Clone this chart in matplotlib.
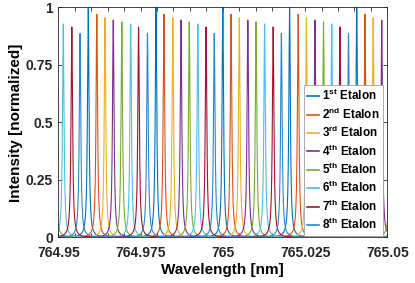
import numpy as np
import matplotlib
matplotlib.use("Agg")
import matplotlib.pyplot as plt

plt.rcParams['font.family'] = ['Liberation Sans', 'DejaVu Sans']
plt.rcParams['font.weight'] = 'bold'
plt.rcParams['mathtext.fontset'] = 'custom'
plt.rcParams['mathtext.rm'] = 'Liberation Sans:bold'
plt.rcParams['mathtext.bf'] = 'Liberation Sans:bold'
plt.rcParams['mathtext.default'] = 'bf'

# peak centres (nm), incl. ones just outside the window
peaks = [
    [764.9591, 764.9797, 765.0000, 765.0203, 765.0407],
    [764.9617, 764.9821, 765.0025, 765.0229, 765.0432],
    [764.9438, 764.9642, 764.9848, 765.0050, 765.0254, 765.0457],
    [764.9463, 764.9667, 764.9873, 765.0076, 765.0280, 765.0483],
    [764.9489, 764.9693, 764.9898, 765.0101, 765.0306, 765.0510],
    [764.9515, 764.9720, 764.9924, 765.0127, 765.0331, 765.0535],
    [764.9541, 764.9744, 764.9949, 765.0153, 765.0356],
    [764.9566, 764.9771, 764.9974, 765.0178, 765.0382],
]
heights = [1.0, 0.97, 0.955, 0.945, 0.937, 0.928, 0.915, 0.887]
half_width = 0.000276  # nm, half width at half max

labels = ['1$^{st}$ Etalon', '2$^{nd}$ Etalon', '3$^{rd}$ Etalon', '4$^{th}$ Etalon',
          '5$^{th}$ Etalon', '6$^{th}$ Etalon', '7$^{th}$ Etalon', '8$^{th}$ Etalon']
colors = ['#0072BD', '#D95319', '#EDB120', '#7E2F8E',
          '#77AC30', '#4DBEEE', '#A2142F', '#2E86CC']

wl = np.linspace(764.94, 765.06, 24001)

fig = plt.figure(figsize=(4.15, 2.83), dpi=100)
ax = fig.add_axes([0.1405, 0.1608, 0.7928, 0.8127])

for pk, h, lab, c in zip(peaks, heights, labels, colors):
    y = np.zeros_like(wl)
    for p in pk:
        y += h / (1 + ((wl - p) / half_width) ** 2)
    ax.plot(wl, y, color=c, lw=0.8, label=lab)

ax.set_xlim(764.95, 765.05)
ax.set_ylim(0, 1)
xt = np.round(np.arange(764.95, 765.0501, 0.005), 3)
ax.set_xticks(xt)
ax.set_xticklabels([('%g' % v) if i % 5 == 0 else '' for i, v in enumerate(xt)])
ax.set_yticks([0, 0.25, 0.5, 0.75, 1])
ax.set_yticklabels(['0', '0.25', '0.5', '0.75', '1'])
ax.tick_params(direction='in', length=3, width=0.6, top=True, right=True,
               labelsize=10, colors='#262626')
ax.tick_params(axis='x', pad=6)
ax.tick_params(axis='y', pad=4)
for s in ax.spines.values():
    s.set_color('#262626')
    s.set_linewidth(0.6)

ax.set_xlabel('Wavelength [nm]', fontsize=11, fontweight='bold', labelpad=2)
ax.set_ylabel('Intensity [normalized]', fontsize=11, fontweight='bold', labelpad=2)

leg = ax.legend(loc='lower right', bbox_to_anchor=(0.988, 0.008), fontsize=8.5,
                handlelength=1.0, handletextpad=0.3, labelspacing=0.27,
                borderpad=0.3, borderaxespad=0, fancybox=False, framealpha=1)
leg.get_frame().set_edgecolor('#A0A0A0')
leg.get_frame().set_linewidth(0.6)
for ln in leg.get_lines():
    ln.set_linewidth(1.2)

fig.savefig('out.png', dpi=100)
